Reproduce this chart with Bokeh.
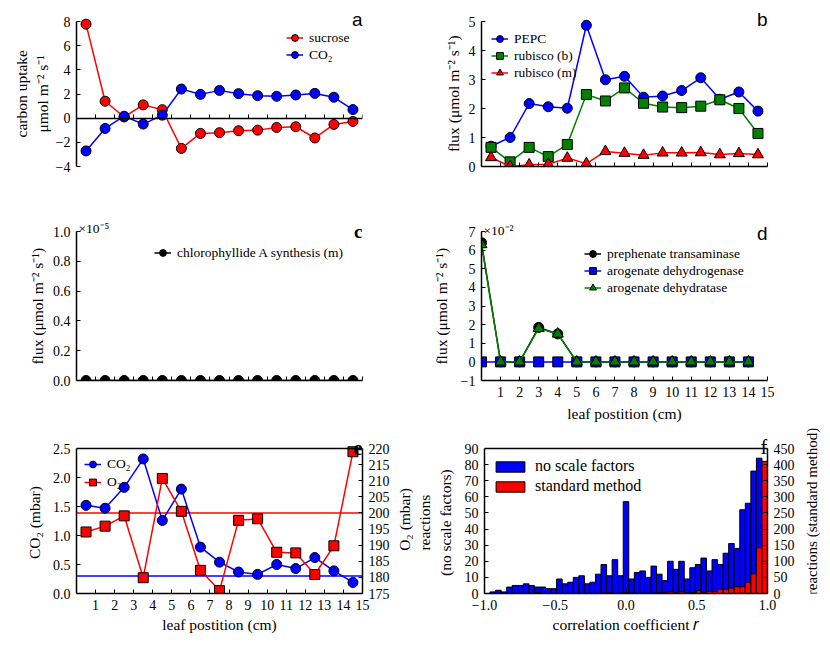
import math
import numpy as np
from bokeh.plotting import figure
from bokeh.models import (Range1d, LinearAxis, FixedTicker, Label, Legend, LegendItem, Span)
from bokeh.layouts import column, row
from bokeh.embed import file_html
from bokeh.resources import INLINE

SERIF = "Liberation Serif"
SANS = "Liberation Sans"

# ---------------- data ----------------
leaf_mid = [0.5, 1.5, 2.5, 3.5, 4.5, 5.5, 6.5, 7.5, 8.5, 9.5, 10.5, 11.5, 12.5, 13.5, 14.5]
leaf_int = [0, 1, 2, 3, 4, 5, 6, 7, 8, 9, 10, 11, 12, 13, 14]
leaf_ticks = [1, 2, 3, 4, 5, 6, 7, 8, 9, 10, 11, 12, 13, 14, 15]

a_sucrose = [7.78, 1.40, 0.10, 1.10, 0.70, -2.50, -1.26, -1.20, -1.04, -0.99, -0.77, -0.71, -1.64, -0.52, -0.27]
a_co2 = [-2.71, -0.85, 0.16, -0.49, 0.25, 2.41, 1.97, 2.30, 2.03, 1.86, 1.81, 1.92, 2.05, 1.73, 0.71]

b_pepc = [0.70, 1.00, 2.17, 2.06, 2.01, 4.87, 2.99, 3.11, 2.39, 2.43, 2.62, 3.06, 2.32, 2.57, 1.91]
b_rubisco_b = [0.66, 0.16, 0.66, 0.34, 0.76, 2.48, 2.26, 2.71, 2.18, 2.05, 2.03, 2.08, 2.30, 2.00, 1.14]
b_rubisco_m = [0.31, 0.00, 0.06, 0.08, 0.29, 0.10, 0.52, 0.46, 0.39, 0.47, 0.47, 0.48, 0.41, 0.45, 0.41]

c_chlorophyllide_e5 = [0, 0, 0, 0, 0, 0, 0, 0, 0, 0, 0, 0, 0, 0, 0]

d_prephenate_e2 = [6.4, 0, 0, 1.85, 1.5, 0, 0, 0, 0, 0, 0, 0, 0, 0, 0]
d_arog_dehydrogenase_e2 = [0, 0, 0, 0, 0, 0, 0, 0, 0, 0, 0, 0, 0, 0, 0]
d_arog_dehydratase_e2 = [6.3, 0, 0, 1.8, 1.5, 0, 0, 0, 0, 0, 0, 0, 0, 0, 0]

e_co2 = [1.52, 1.47, 1.83, 2.32, 1.26, 1.80, 0.80, 0.54, 0.37, 0.33, 0.50, 0.43, 0.62, 0.39, 0.19]
e_o2 = [194.1, 195.9, 199.1, 179.9, 210.7, 200.5, 182.2, 175.9, 197.7, 198.2, 187.8, 187.6, 180.9, 189.8, 219.0]
e_co2_ref = 0.3
e_o2_ref = 200

f_no_scale = [0, 1, 2, 1, 4, 5, 5, 6, 5, 4, 4, 3, 3, 9, 6, 7, 10, 11, 6, 7, 12, 18, 11, 21, 11,
              57, 9, 13, 14, 10, 17, 12, 8, 20, 15, 20, 9, 16, 18, 22, 14, 21, 18, 25, 31, 28,
              52, 56, 76, 84, 80]
f_standard = [0, 0, 0, 0, 0, 0, 0, 0, 0, 2, 0, 0, 0, 0, 0, 0, 0, 0, 0, 0, 0, 1, 2, 0, 1,
              2, 1, 0, 1, 0, 1, 1, 2, 5, 2, 5, 1, 3, 9, 2, 7, 6, 13, 13, 17, 21,
              21, 35, 61, 142, 410]
f_edges = np.linspace(-1.0, 1.0, len(f_no_scale) + 1)
f_centers = (f_edges[:-1] + f_edges[1:]) / 2
f_width = f_edges[1] - f_edges[0]

BLUE = "#0000ff"
RED = "#ff0000"
GREEN = "#008000"
LW = 1.5
MS = 10
TICK_FS = "14px"
LABEL_FS = "15.5px"
LEG_FS = "13.5px"
NB = "\u00a0"


def pad(text, n):
    # trailing no-break spaces: lowers a bottom-to-top axis title within its box
    return "\n".join(line + NB * n for line in text.split("\n"))


def style_axis(ax, labels=True, standoff=8):
    ax.axis_line_width = 1.5
    ax.axis_line_color = "black"
    ax.major_tick_in = 4
    ax.major_tick_out = 0
    ax.major_tick_line_width = 1
    ax.major_tick_line_color = "black"
    ax.minor_tick_line_color = None
    ax.major_label_text_font = SERIF
    ax.major_label_text_font_size = TICK_FS if labels else "0px"
    ax.major_label_text_color = "black"
    ax.major_label_standoff = 6
    ax.axis_label_text_font = SERIF
    ax.axis_label_text_font_size = LABEL_FS
    ax.axis_label_text_font_style = "normal"
    ax.axis_label_text_color = "black"
    ax.axis_label_standoff = int(standoff)


def ext(lo, hi, h, extra):
    # extend a range upward by `extra` pixels of headroom (panel letters live there)
    return Range1d(lo, hi + (hi - lo) * extra / h)


def make_fig(width, height, mbl, mbr, mbt, mbb, xr, yr):
    p = figure(width=width, height=height, x_range=xr, y_range=yr,
               output_backend="svg", toolbar_location=None,
               min_border_left=mbl, min_border_right=mbr,
               min_border_top=mbt, min_border_bottom=mbb)
    p.grid.visible = False
    p.outline_line_color = None
    p.border_fill_color = "white"
    p.background_fill_color = "white"
    return p


def ticks(ax, vals, fmt):
    ax.ticker = FixedTicker(ticks=vals)
    ax.major_label_overrides = {v: fmt(v).replace("-", "\u2212") for v in vals}


def series(p, x, y, color, marker, label_items, label, size=MS, y_range_name="default"):
    l = p.line(x, y, line_color=color, line_width=LW, y_range_name=y_range_name)
    s = p.scatter(x, y, marker=marker, size=size, fill_color=color, line_color="black",
                  line_width=1, y_range_name=y_range_name)
    label_items.append(LegendItem(label=label, renderers=[l, s]))


def add_legend(p, items, loc, font_size=LEG_FS, glyph_w=17, glyph_h=17, label_h=17, standoff=6):
    lg = Legend(items=items, location=loc, border_line_color=None,
                background_fill_alpha=0, padding=0, spacing=0, margin=0,
                glyph_width=glyph_w, glyph_height=glyph_h, label_height=label_h,
                label_standoff=standoff, label_text_font=SERIF,
                label_text_font_size=font_size, label_text_color="black")
    p.add_layout(lg)


def put(p, x, y, text, font=SERIF, size="19px", style="normal", align="right",
        baseline="alphabetic", yoff=0, xoff=0, angle=0.0):
    p.add_layout(Label(x=x, y=y, text=text, text_align=align, text_baseline=baseline,
                       y_offset=yoff, x_offset=xoff, angle=angle, text_font=font,
                       text_font_style=style, text_font_size=size, text_color="black"))


def side_title(width, height, mbt, mbb, frame_h, x, y, text, size):
    # narrow text-only plot holding a right-hand axis title that reads bottom to top
    s = figure(width=width, height=height, x_range=Range1d(0, width), y_range=Range1d(0, frame_h),
               output_backend="svg", toolbar_location=None, x_axis_type=None, y_axis_type=None,
               min_border_left=0, min_border_right=0, min_border_top=mbt, min_border_bottom=mbb)
    s.grid.visible = False
    s.outline_line_color = None
    s.border_fill_color = "white"
    s.background_fill_color = "white"
    put(s, x, y, text, size=size, align="center", baseline="middle", angle=math.pi / 2)
    return s


FLUX = "flux (\u03bcmol m\u207b\u00b2 s\u207b\u00b9)"
H1, X1 = 145, 16
H2, X2 = 149, 19
H3, X3 = 145, 20

# ---------------- panel a ----------------
pa = make_fig(413, 200, 76, 51, 5, 34, Range1d(0, 15), ext(-4, 8, H1, X1))
for ax in pa.axis:
    style_axis(ax, standoff=2)
style_axis(pa.xaxis[0], labels=False)
pa.xaxis.fixed_location = 0
pa.yaxis.bounds = (-4, 8)
ticks(pa.xaxis[0], leaf_ticks, lambda v: str(v))
ticks(pa.yaxis[0], [-4, -2, 0, 2, 4, 6, 8], lambda v: str(v))
pa.yaxis.axis_label = pad("carbon uptake\n\u03bcmol m\u207b\u00b2 s\u207b\u00b9", 4)
items = []
series(pa, leaf_mid, a_sucrose, RED, "circle", items, "sucrose")
series(pa, leaf_mid, a_co2, BLUE, "circle", items, "CO\u2082")
add_legend(pa, items, (210, 103))
put(pa, 15, 8, "a", font=SANS, yoff=2)

# ---------------- panel b ----------------
pb = make_fig(364, 200, 68, 10, 5, 34, Range1d(0, 15), ext(0, 5, H1, X1))
for ax in pb.axis:
    style_axis(ax, standoff=4)
style_axis(pb.xaxis[0], labels=False)
pb.yaxis.bounds = (0, 5)
ticks(pb.xaxis[0], leaf_ticks, lambda v: str(v))
ticks(pb.yaxis[0], [0, 1, 2, 3, 4, 5], lambda v: str(v))
pb.yaxis.axis_label = pad(FLUX, 4)
items = []
series(pb, leaf_mid, b_pepc, BLUE, "circle", items, "PEPC")
series(pb, leaf_mid, b_rubisco_b, GREEN, "square", items, "rubisco (b)")
series(pb, leaf_mid, b_rubisco_m, RED, "triangle", items, "rubisco (m)", size=11)
add_legend(pb, items, (10, 85))
put(pb, 15, 5, "b", font=SANS, yoff=2)

# ---------------- panel c ----------------
pc = make_fig(413, 225, 76, 51, 12, 45, Range1d(0, 15), ext(0, 1.0, H2, X2))
for ax in pc.axis:
    style_axis(ax, standoff=4)
style_axis(pc.xaxis[0], labels=False)
pc.yaxis.bounds = (0, 1.0)
ticks(pc.xaxis[0], leaf_ticks, lambda v: str(v))
ticks(pc.yaxis[0], [0, 0.2, 0.4, 0.6, 0.8, 1.0], lambda v: "%.1f" % v)
pc.yaxis.axis_label = pad(FLUX, 5)
items = []
series(pc, leaf_mid, c_chlorophyllide_e5, "black", "circle", items, "chlorophyllide A synthesis (m)")
add_legend(pc, items, (78, 119))
put(pc, 0, 1.0, "\u00d710\u207b\u2075", size="13.5px", align="left", xoff=2, yoff=3)
put(pc, 15, 1.0, "c", style="bold", yoff=0)

# ---------------- panel d ----------------
pd_ = make_fig(364, 225, 68, 10, 12, 45, Range1d(0, 15), ext(-1, 7, H2, X2))
for ax in pd_.axis:
    style_axis(ax, standoff=8)
pd_.yaxis.bounds = (-1, 7)
ticks(pd_.xaxis[0], leaf_ticks, lambda v: str(v))
ticks(pd_.yaxis[0], [-1, 0, 1, 2, 3, 4, 5, 6, 7], lambda v: str(v))
pd_.yaxis.axis_label = pad(FLUX, 5)
pd_.xaxis.axis_label = "leaf postition (cm)"
pd_.xaxis.axis_label_standoff = 5
items = []
series(pd_, leaf_int, d_prephenate_e2, "black", "circle", items, "prephenate transaminase")
series(pd_, leaf_int, d_arog_dehydrogenase_e2, BLUE, "square", items, "arogenate dehydrogenase")
series(pd_, leaf_int, d_arog_dehydratase_e2, GREEN, "triangle", items, "arogenate dehydratase", size=11)
add_legend(pd_, items, (103, 84))
put(pd_, 0, 7, "\u00d710\u207b\u00b2", size="13.5px", align="left", xoff=2, yoff=1)
put(pd_, 15, 7, "d", font=SANS, yoff=-2)

# ---------------- panel e ----------------
pe = make_fig(393, 220, 76, 31, 3, 52, Range1d(0, 15), ext(0, 2.5, H3, X3))
pe.extra_y_ranges = {"o2": ext(175, 220, H3, X3)}
ax_r = LinearAxis(y_range_name="o2")
pe.add_layout(ax_r, "right")
for ax in pe.axis:
    style_axis(ax, standoff=7)
pe.yaxis[0].bounds = (0, 2.5)
ax_r.bounds = (175, 220)
ticks(pe.xaxis[0], leaf_ticks, lambda v: str(v))
ticks(pe.yaxis[0], [0, 0.5, 1.0, 1.5, 2.0, 2.5], lambda v: "%.1f" % v)
ticks(ax_r, [175, 180, 185, 190, 195, 200, 205, 210, 215, 220], lambda v: str(v))
pe.yaxis[0].axis_label = pad("CO\u2082 (mbar)", 6)
pe.xaxis.axis_label = "leaf postition (cm)"
pe.xaxis.axis_label_standoff = 3
pe.add_layout(Span(location=2.5, dimension="width", line_color="black", line_width=1.5))
pe.add_layout(Span(location=e_co2_ref, dimension="width", line_color=BLUE, line_width=LW, level="underlay"))
pe.add_layout(Span(location=e_o2_ref, dimension="width", line_color=RED, line_width=LW,
                   y_range_name="o2", level="underlay"))
items = []
series(pe, leaf_mid, e_co2, BLUE, "circle", items, "CO\u2082")
series(pe, leaf_mid, e_o2, RED, "square", items, "O\u2082", y_range_name="o2")
add_legend(pe, items, (8, 102), glyph_h=18, label_h=18)
put(pe, 15, 2.5, "e", style="bold", size="21px", yoff=1)

le = side_title(20, 220, 3, 52, H3 + X3, 11, 74, "O\u2082 (mbar)", LABEL_FS)

# ---------------- panel f ----------------
pf = make_fig(387, 220, 68, 33, 3, 52, Range1d(-1, 1), ext(0, 90, H3, X3))
pf.extra_y_ranges = {"std": ext(0, 450, H3, X3)}
ax_fr = LinearAxis(y_range_name="std")
pf.add_layout(ax_fr, "right")
for ax in pf.axis:
    style_axis(ax, standoff=8)
pf.yaxis[0].bounds = (0, 90)
ax_fr.bounds = (0, 450)
ticks(pf.xaxis[0], [-1.0, -0.5, 0.0, 0.5, 1.0], lambda v: "%.1f" % v)
ticks(pf.yaxis[0], [0, 10, 20, 30, 40, 50, 60, 70, 80, 90], lambda v: str(v))
ticks(ax_fr, [0, 50, 100, 150, 200, 250, 300, 350, 400, 450], lambda v: str(v))
pf.yaxis[0].axis_label = pad("reactions\n(no scale factors)", 6)
pf.xaxis.axis_label = "correlation coefficient \U0001D45F"
pf.xaxis.axis_label_standoff = 3
pf.add_layout(Span(location=90, dimension="width", line_color="black", line_width=1.5))
b1 = pf.vbar(x=f_centers, top=f_no_scale, width=f_width, bottom=0,
             fill_color=BLUE, line_color="black", line_width=1)
b2 = pf.vbar(x=f_centers, top=f_standard, width=f_width, bottom=0,
             fill_color=RED, line_color="black", line_width=1, y_range_name="std")
add_legend(pf, [LegendItem(label="no scale factors", renderers=[b1]),
                LegendItem(label="standard method", renderers=[b2])],
           (8, 97), font_size="16px", glyph_w=36, glyph_h=13, label_h=20, standoff=7)
put(pf, 1.0, 90, "f", size="21px", yoff=2)

lf = side_title(22, 220, 3, 52, H3 + X3, 11.5, 82, "reactions (standard method)", "15px")

layout = column(row(pa, pb), row(pc, pd_), row(pe, le, pf, lf))
open("out.html", "w").write(file_html(layout, INLINE))
